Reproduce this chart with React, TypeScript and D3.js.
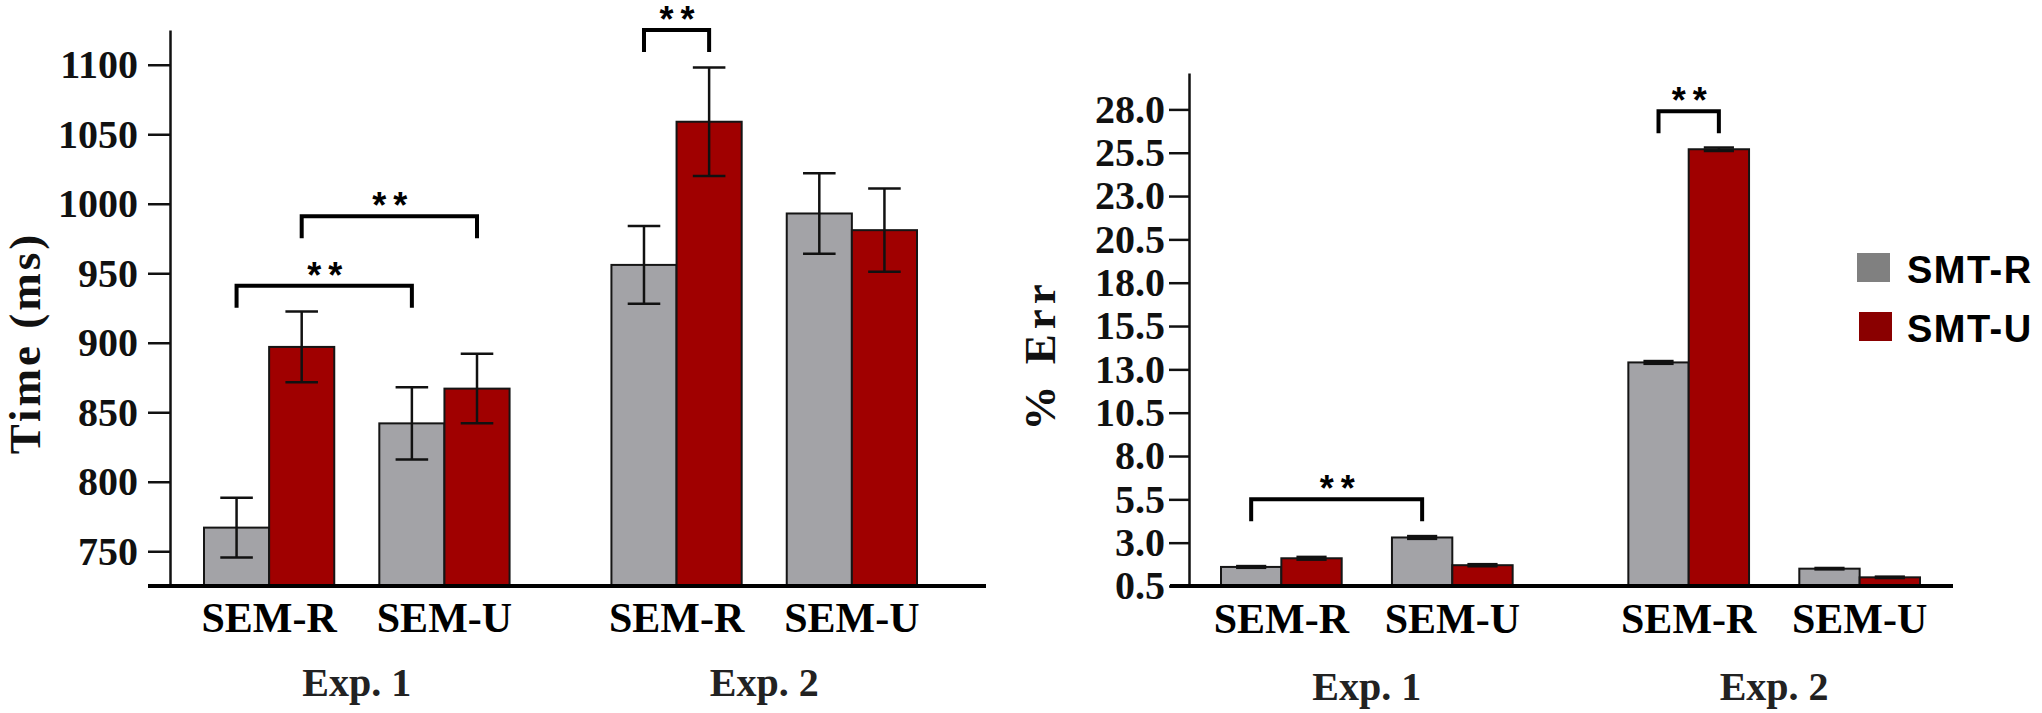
import * as d3 from "d3";
import { useEffect, useRef } from "react";

const experiments = ["Exp. 1", "Exp. 2"];
const conditions = ["SEM-R", "SEM-U"];
const series = ["SMT-R", "SMT-U"];

// order of values: Exp1 SEM-R, Exp1 SEM-U, Exp2 SEM-R, Exp2 SEM-U
const timeSmtR = [767, 842, 956, 993];
const timeSmtU = [897, 867, 1059, 981];
const timeSeR = [21.5, 26, 28, 29];
const timeSeU = [25.5, 25, 39, 30];
const timeTicks = [750, 800, 850, 900, 950, 1000, 1050, 1100];

const errSmtR = [1.6, 3.3, 13.4, 1.5];
const errSmtU = [2.1, 1.7, 25.7, 1.0];
const errSeR = [0.05, 0.08, 0.08, 0.04];
const errSeU = [0.08, 0.06, 0.1, 0.04];
const errTicks = [0.5, 3.0, 5.5, 8.0, 10.5, 13.0, 15.5, 18.0, 20.5, 23.0, 25.5, 28.0];

// significance brackets (exp, cond, series index) and bracket height
const timeSig = [
  { from: [0, 0, 0], to: [0, 1, 0], level: 941 },
  { from: [0, 0, 1], to: [0, 1, 1], level: 991 },
  { from: [1, 0, 0], to: [1, 0, 1], level: 1125 },
];
const errSig = [
  { from: [0, 0, 0], to: [0, 1, 0], level: 5.5 },
  { from: [1, 0, 0], to: [1, 0, 1], level: 27.9 },
];

const serif = "'Liberation Serif', 'Times New Roman', serif";
const sans = "'Liberation Sans', Arial, sans-serif";
const fills = ["#a3a3a7", "#a00000"];

function drawPanel(svg, cfg) {
  const g = svg.append("g");
  const y = d3.scaleLinear().domain(cfg.domain).range(cfg.yRange);
  const outer = d3
    .scaleBand()
    .domain(experiments)
    .range(cfg.barRange)
    .paddingInner(cfg.outerPad);
  const inner = d3
    .scaleBand()
    .domain(conditions)
    .range([0, outer.bandwidth()])
    .paddingInner(cfg.innerPad);
  const ser = d3.scaleBand().domain(series).range([0, inner.bandwidth()]);
  const bw = ser.bandwidth();

  const barX = (e, c, s) =>
    (outer(experiments[e]) || 0) + (inner(conditions[c]) || 0) + (ser(series[s]) || 0);

  // y axis
  const axis = g
    .append("g")
    .attr("transform", `translate(${cfg.axisX},0)`)
    .call(
      d3
        .axisLeft(y)
        .tickValues(cfg.ticks)
        .tickSize(cfg.tickLen)
        .tickSizeOuter(0)
        .tickPadding(cfg.tickPad)
        .tickFormat(cfg.fmt)
    );
  axis.select(".domain").attr("stroke", "#111").attr("stroke-width", 2.5);
  axis.selectAll(".tick line").attr("stroke", "#111").attr("stroke-width", 2.5);
  axis
    .selectAll(".tick text")
    .attr("font-family", serif)
    .attr("font-weight", "bold")
    .attr("font-size", 40)
    .attr("fill", "#111");

  // bars
  const rows = [];
  cfg.values.forEach((vals, s) =>
    vals.forEach((v, k) =>
      rows.push({ e: Math.floor(k / 2), c: k % 2, s, v, se: cfg.se[s][k] })
    )
  );

  g.selectAll(".bar")
    .data(rows)
    .enter()
    .append("rect")
    .attr("class", "bar")
    .attr("x", (d) => barX(d.e, d.c, d.s))
    .attr("y", (d) => y(d.v))
    .attr("width", bw)
    .attr("height", (d) => y(cfg.domain[0]) - y(d.v))
    .attr("fill", (d) => fills[d.s])
    .attr("stroke", "#151515")
    .attr("stroke-width", 2);

  // error bars
  const eb = g.selectAll(".err").data(rows).enter().append("g");
  const cx = (d) => barX(d.e, d.c, d.s) + bw / 2;
  eb.append("line")
    .attr("x1", cx)
    .attr("x2", cx)
    .attr("y1", (d) => y(d.v - d.se))
    .attr("y2", (d) => y(d.v + d.se))
    .attr("stroke", "#111")
    .attr("stroke-width", 2.5);
  [1, -1].forEach((sign) =>
    eb
      .append("line")
      .attr("x1", (d) => cx(d) - bw / 4)
      .attr("x2", (d) => cx(d) + bw / 4)
      .attr("y1", (d) => y(d.v + sign * d.se))
      .attr("y2", (d) => y(d.v + sign * d.se))
      .attr("stroke", "#111")
      .attr("stroke-width", 2.5)
  );

  // x axis line
  g.append("line")
    .attr("x1", cfg.xLine[0])
    .attr("x2", cfg.xLine[1])
    .attr("y1", y(cfg.domain[0]))
    .attr("y2", y(cfg.domain[0]))
    .attr("stroke", "#000")
    .attr("stroke-width", 4);

  // category labels
  experiments.forEach((exp) => {
    conditions.forEach((cond) => {
      g.append("text")
        .attr("x", (outer(exp) || 0) + (inner(cond) || 0) + inner.bandwidth() / 2)
        .attr("y", cfg.semY)
        .attr("text-anchor", "middle")
        .attr("font-family", serif)
        .attr("font-weight", "bold")
        .attr("font-size", 42)
        .attr("fill", "#000")
        .text(cond);
    });
    g.append("text")
      .attr("x", (outer(exp) || 0) + outer.bandwidth() / 2)
      .attr("y", cfg.expY)
      .attr("text-anchor", "middle")
      .attr("font-family", serif)
      .attr("font-weight", "bold")
      .attr("font-size", 40)
      .attr("fill", "#222")
      .text(exp);
  });

  // y label
  g.append("text")
    .attr("transform", `translate(${cfg.labelX},${cfg.labelY}) rotate(-90)`)
    .attr("text-anchor", "middle")
    .attr("font-family", serif)
    .attr("font-weight", "bold")
    .attr("font-size", 45)
    .attr("letter-spacing", cfg.labelSpacing)
    .attr("fill", "#111")
    .text(cfg.label);

  // significance brackets
  cfg.sig.forEach((b) => {
    const x1 = barX(b.from[0], b.from[1], b.from[2]) + bw / 2;
    const x2 = barX(b.to[0], b.to[1], b.to[2]) + bw / 2;
    const yt = y(b.level);
    g.append("path")
      .attr("d", `M${x1},${yt + 22}V${yt}H${x2}V${yt + 22}`)
      .attr("fill", "none")
      .attr("stroke", "#000")
      .attr("stroke-width", 4);
    g.append("text")
      .attr("x", (x1 + x2) / 2 + 4)
      .attr("y", yt + 2)
      .attr("text-anchor", "middle")
      .attr("font-family", sans)
      .attr("font-weight", "bold")
      .attr("font-size", 36)
      .attr("letter-spacing", 7)
      .attr("fill", "#000")
      .text("**");
  });
}

export default function App() {
  const svgRef = useRef(null);

  useEffect(() => {
    const svg = d3.select(svgRef.current);
    svg.selectAll("*").remove();

    drawPanel(svg, {
      values: [timeSmtR, timeSmtU],
      se: [timeSeR, timeSeU],
      ticks: timeTicks,
      fmt: d3.format("d"),
      domain: [725, 1125],
      yRange: [586, 30],
      axisX: 170,
      tickLen: 22,
      tickPad: 10,
      barRange: [204, 917],
      outerPad: 0.25,
      innerPad: 0.257,
      xLine: [148, 986],
      semY: 632,
      expY: 696,
      label: "Time (ms)",
      labelX: 40,
      labelY: 343,
      labelSpacing: 3,
      sig: timeSig,
    });

    drawPanel(svg, {
      values: [errSmtR, errSmtU],
      se: [errSeR, errSeU],
      ticks: errTicks,
      fmt: d3.format(".1f"),
      domain: [0.5, 30.1],
      yRange: [586, 73],
      axisX: 1189,
      tickLen: 20,
      tickPad: 4,
      barRange: [1221, 1920],
      outerPad: 0.284,
      innerPad: 0.294,
      xLine: [1170, 1953],
      semY: 633,
      expY: 700,
      label: "% Err",
      labelX: 1055,
      labelY: 355,
      labelSpacing: 5,
      sig: errSig,
    });

    // legend
    const legendFill = ["#808080", "#8a0000"];
    const legend = svg
      .selectAll(".legend")
      .data(series)
      .enter()
      .append("g")
      .attr("transform", (d, i) => `translate(1857,${253 + i * 59})`);
    legend
      .append("rect")
      .attr("x", (d, i) => i * 2)
      .attr("width", 33)
      .attr("height", 29)
      .attr("fill", (d, i) => legendFill[i]);
    legend
      .append("text")
      .attr("x", 50)
      .attr("y", 30)
      .attr("font-family", sans)
      .attr("font-weight", "bold")
      .attr("font-size", 38)
      .attr("letter-spacing", 1.5)
      .attr("fill", "#000")
      .text((d) => d);
  }, []);

  return (
    <svg
      ref={svgRef}
      width={2042}
      height={713}
      style={{ position: "absolute", left: 0, top: 0, background: "#fff" }}
    ></svg>
  );
}
